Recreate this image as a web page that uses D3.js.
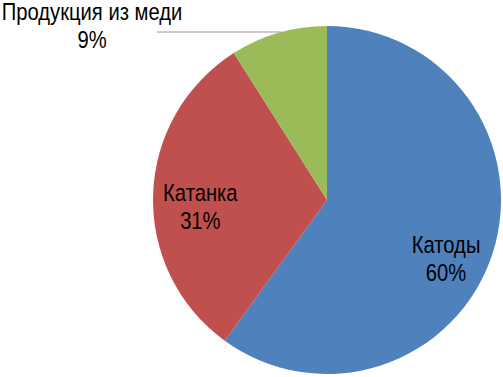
<!DOCTYPE html>
<html>
<head>
<meta charset="utf-8">
<title>Pie</title>
<script src="https://cdn.jsdelivr.net/npm/d3@7"></script>
<style>
    body { margin: 0; background: #fff; }
    .lbl text {
        font-family: "Liberation Sans Narrow", "Arial Narrow", "Liberation Sans", Arial, sans-serif;
        font-size: 23.5px;
        fill: #000;
    }
</style>
</head>
<body>
<script>
    var categories = ["Катоды", "Катанка", "Продукция из меди"];
    var values = [60, 31, 9];
    var colors = ["#4f81bd", "#c0504d", "#9bbb59"];

    var w = 503, h = 377;
    var cx = 327, cy = 200, r = 174;
    var lineGap = 28;

    var svg = d3.select("body").append("svg")
        .attr("width", w)
        .attr("height", h);

    var pie = d3.pie().sort(null).value(function(d) { return d; });
    var arcs = pie(values);
    var arc = d3.arc().innerRadius(0).outerRadius(r);

    var g = svg.append("g").attr("transform", "translate(" + cx + "," + cy + ")");

    g.selectAll("path")
        .data(arcs)
        .enter()
        .append("path")
        .attr("d", arc)
        .attr("fill", function(d, i) { return colors[i]; });

    // label placement: inside for the big slices, outside with leader for the small one
    var labelArc = d3.arc().innerRadius(r * 0.78).outerRadius(r * 0.78);
    var nudge = [[-10, 11], [9, 5]];

    var total = d3.sum(values);
    function pct(v) { return Math.round(v / total * 100) + "%"; }

    var lbl = svg.append("g").attr("class", "lbl");

    arcs.forEach(function(d, i) {
        var x, y;
        if (i < 2) {
            var c = labelArc.centroid(d);
            x = cx + c[0] + nudge[i][0];
            y = cy + c[1] + nudge[i][1];
        } else {
            // outside label, top-left
            x = 92;
            y = 20;
            var edgeY = 32;
            var edgeX = cx - Math.sqrt(r * r - (cy - edgeY) * (cy - edgeY));
            svg.append("line")
                .attr("x1", 157).attr("y1", edgeY)
                .attr("x2", edgeX).attr("y2", edgeY)
                .attr("stroke", "#a89090")
                .attr("stroke-width", 1);
        }
        // narrow font look
        var t = lbl.append("text")
            .attr("text-anchor", "middle")
            .attr("transform", "translate(" + x + "," + y + ") scale(0.86,1)");
        t.append("tspan").attr("x", 0).attr("y", 0).text(categories[i]);
        t.append("tspan").attr("x", 0).attr("y", lineGap).text(pct(values[i]));
    });
</script>
</body>
</html>
